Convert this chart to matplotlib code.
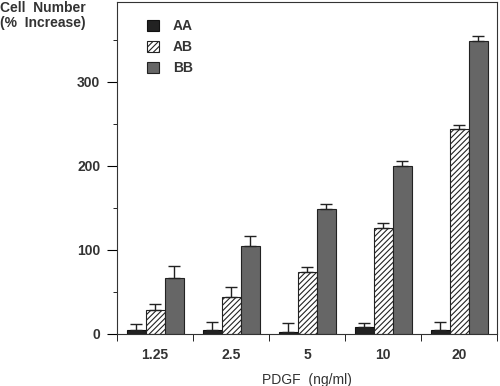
import numpy as np
import matplotlib.pyplot as plt

doses = ["1.25", "2.5", "5", "10", "20"]
aa = [5, 5, 2, 8, 5]
aa_err = [7, 9, 11, 5, 9]
ab = [28, 44, 74, 126, 244]
ab_err = [8, 12, 6, 6, 5]
bb = [67, 105, 149, 200, 349]
bb_err = [14, 12, 6, 6, 6]

plt.rcParams['font.family'] = ['Liberation Sans', 'DejaVu Sans']
plt.rcParams['hatch.linewidth'] = 0.8

fig = plt.figure(figsize=(5, 3.86), dpi=100)
ax = fig.add_axes([0.234, 0.135, 0.76, 0.86])

x = np.arange(len(doses))
w = 0.25
ekw = dict(elinewidth=1, capthick=1, ecolor='#222222')
zeros = [0] * len(doses)
ax.bar(x - w, aa, w, color='#222222', edgecolor='#111111', linewidth=0.8,
       yerr=[zeros, aa_err], capsize=4, error_kw=ekw, label='AA')
ax.bar(x, ab, w, color='white', edgecolor='#222222', hatch='//////', linewidth=0.8,
       yerr=[zeros, ab_err], capsize=4, error_kw=ekw, label='AB')
ax.bar(x + w, bb, w, color='#666666', edgecolor='#222222', linewidth=0.8,
       yerr=[zeros, bb_err], capsize=4, error_kw=ekw, label='BB')

ax.set_xlim(-0.5, len(doses) - 0.5)
ax.set_ylim(0, 395)
ax.set_xticks(x)
ax.set_xticklabels(doses, fontsize=10, fontweight='bold', color='#333333')
ax.set_xticks(np.arange(-0.5, len(doses)), minor=True)
ax.tick_params(axis='x', which='major', length=0, pad=10)
ax.tick_params(axis='x', which='minor', length=5, direction='out')
ax.set_yticks([0, 100, 200, 300])
ax.set_yticks([50, 150, 250, 350], minor=True)
ax.set_yticklabels(['0', '100', '200', '300'], fontsize=10, fontweight='bold', color='#333333')
ax.tick_params(axis='y', which='major', length=7, direction='out', pad=5)
ax.tick_params(axis='y', which='minor', length=3, direction='out')
for s in ax.spines.values():
    s.set_color('#333333')

ax.set_xlabel("PDGF  (ng/ml)", fontsize=10, color='#333333', labelpad=8)
fig.text(0.0, 0.997, "Cell  Number\n(%  Increase)", fontsize=10, fontweight='bold',
         color='#333333', va='top', ha='left', linespacing=1.1)

leg = ax.legend(loc='upper left', bbox_to_anchor=(0.045, 0.985), frameon=False,
                handlelength=0.9, handleheight=0.9, handletextpad=1.0,
                labelspacing=0.5, prop={'size': 10, 'weight': 'bold'})
for t in leg.get_texts():
    t.set_color('#333333')

fig.savefig('out.png', dpi=100)
